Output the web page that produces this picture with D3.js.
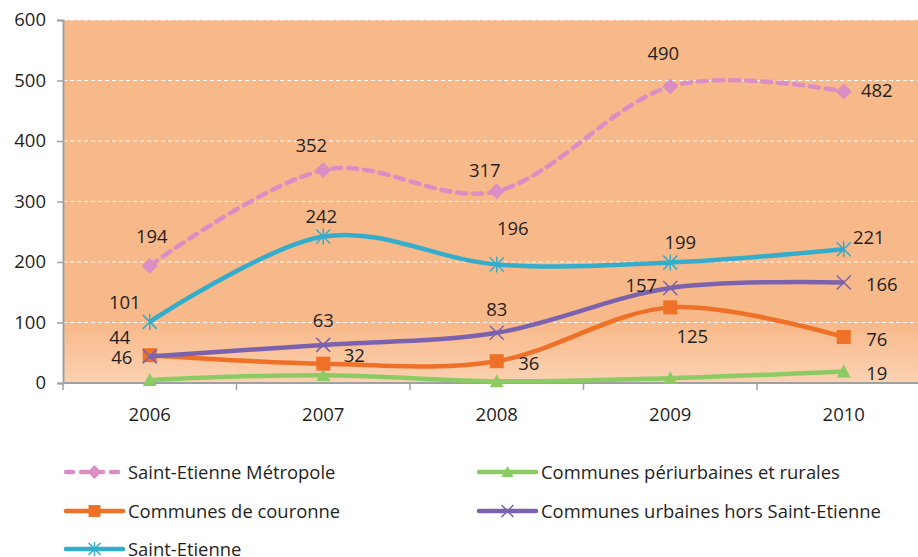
<!DOCTYPE html>
<html>
<head>
<meta charset="utf-8">
<script src="https://cdn.jsdelivr.net/npm/d3@7"></script>
<style>
  html, body { margin: 0; padding: 0; background: #fff; }
  svg { display: block; }
  text { font-family: "Open Sans", sans-serif; fill: #1f1f1f; }
</style>
</head>
<body>
<svg id="chart" width="918" height="557"></svg>
<script>
// Years on the horizontal axis
const years = ["2006", "2007", "2008", "2009", "2010"];
const yTicks = [0, 100, 200, 300, 400, 500, 600];

// Series values per year
const metropole   = [194, 352, 317, 490, 482];
const periurbain  = [5, 13, 3, 8, 19];
const couronne    = [46, 32, 36, 125, 76];
const urbaines    = [44, 63, 83, 157, 166];
const saintEtienne = [101, 242, 196, 199, 221];

// Series names (legend order: row by row, two columns)
const names = [
  "Saint-Etienne Métropole",
  "Communes périurbaines et rurales",
  "Communes de couronne",
  "Communes urbaines hors Saint-Etienne",
  "Saint-Etienne"
];

// Which points carry a value label, and where it sits relative to its point
const labelOffsets = [
  [[2, -29], [-12, -25], [-12, -21], [-7, -33], [33, -1]],
  [null, null, null, null, [33, 2]],
  [[-28, 2], [31, -8], [32, 2], [22, 29], [33, 2]],
  [[-30, -19], [0, -25], [0, -23], [-29, -3], [38, 2]],
  [[-25, -20], [-2, -20], [16, -36], [10, -20], [25, -12]]
];

const series = [
  { name: names[0], values: metropole,    color: "#DA8EC3", marker: "diamond", dash: "9,7" },
  { name: names[1], values: periurbain,   color: "#8CCB63", marker: "triangle" },
  { name: names[2], values: couronne,     color: "#EE7127", marker: "square" },
  { name: names[3], values: urbaines,     color: "#7B62AE", marker: "x" },
  { name: names[4], values: saintEtienne, color: "#33ADCB", marker: "star" }
];

const svg = d3.select("#chart");
const plot = { left: 63, top: 20, right: 930.5, bottom: 383 };

const x = d3.scaleBand().domain(years).range([plot.left, plot.right]);
const y = d3.scaleLinear().domain([0, 600]).range([plot.bottom, plot.top]);
const cx = d => x(d) + x.bandwidth() / 2;

// Plot area fill, lightening toward the baseline
const defs = svg.append("defs");
const grad = defs.append("linearGradient").attr("id", "bg")
  .attr("x1", 0).attr("y1", 0).attr("x2", 0).attr("y2", 1);
grad.append("stop").attr("offset", "0%").attr("stop-color", "#F8B98A");
grad.append("stop").attr("offset", "84%").attr("stop-color", "#F8B98A");
grad.append("stop").attr("offset", "100%").attr("stop-color", "#FBD2B3");

svg.append("rect")
  .attr("x", plot.left).attr("y", plot.top)
  .attr("width", plot.right - plot.left).attr("height", plot.bottom - plot.top)
  .attr("fill", "url(#bg)");

// Dashed white gridlines
svg.append("g").selectAll("line").data(yTicks.filter(v => v > 0)).join("line")
  .attr("x1", plot.left).attr("x2", plot.right)
  .attr("y1", d => y(d)).attr("y2", d => y(d))
  .attr("stroke", "#fff").attr("stroke-width", 1.2)
  .attr("stroke-dasharray", "4,3");

// Y axis
const yAxis = svg.append("g").attr("transform", `translate(${plot.left},0)`)
  .call(d3.axisLeft(y).tickValues(yTicks).tickSize(6).tickPadding(11));
yAxis.select(".domain").attr("stroke", "#A0A0A0").attr("stroke-width", 2);
yAxis.selectAll(".tick line").attr("stroke", "#A0A0A0").attr("stroke-width", 1.5);
yAxis.selectAll("text").style("font-size", "18.5px").style("font-family", "Open Sans").attr("fill", "#1f1f1f");

// X axis with tick marks between the categories
const xAxisG = svg.append("g").attr("transform", `translate(0,${plot.bottom})`);
xAxisG.append("line").attr("x1", plot.left).attr("x2", plot.right)
  .attr("stroke", "#A0A0A0").attr("stroke-width", 2);
const bounds = years.map(d => x(d)).concat([x(years[years.length - 1]) + x.bandwidth()]);
xAxisG.selectAll("line.tk").data(bounds).join("line").attr("class", "tk")
  .attr("x1", d => d).attr("x2", d => d).attr("y1", 0).attr("y2", 7)
  .attr("stroke", "#A0A0A0").attr("stroke-width", 1.5);
xAxisG.selectAll("text").data(years).join("text")
  .attr("x", d => cx(d)).attr("y", 38)
  .attr("text-anchor", "middle").style("font-size", "18.5px")
  .text(d => d);

// Marker shapes
function drawMarker(g, type, color, px, py, scale = 1) {
  const s = 7 * scale;
  if (type === "diamond") {
    g.append("path").attr("d", `M${px},${py - s - 1}L${px + s + 1},${py}L${px},${py + s + 1}L${px - s - 1},${py}Z`).attr("fill", color);
  } else if (type === "square") {
    g.append("rect").attr("x", px - s).attr("y", py - s).attr("width", 2 * s).attr("height", 2 * s).attr("fill", color);
  } else if (type === "triangle") {
    g.append("path").attr("d", `M${px},${py - s}L${px + s},${py + s * 0.85}L${px - s},${py + s * 0.85}Z`).attr("fill", color);
  } else if (type === "x") {
    g.append("path").attr("d", `M${px - s},${py - s}L${px + s},${py + s}M${px - s},${py + s}L${px + s},${py - s}`)
      .attr("stroke", color).attr("stroke-width", 1.5).attr("fill", "none");
  } else if (type === "star") {
    g.append("path").attr("d", `M${px - s},${py - s}L${px + s},${py + s}M${px - s},${py + s}L${px + s},${py - s}M${px},${py - s - 1}L${px},${py + s + 1}`)
      .attr("stroke", color).attr("stroke-width", 1.5).attr("fill", "none");
  }
}

// Smoothed lines
const line = d3.line()
  .x((d, i) => cx(years[i]))
  .y(d => y(d))
  .curve(d3.curveCardinal.tension(0));

series.forEach((s, si) => {
  const g = svg.append("g");
  g.append("path").datum(s.values)
    .attr("d", line)
    .attr("fill", "none")
    .attr("stroke", s.color)
    .attr("stroke-width", 4.5)
    .attr("stroke-linecap", s.dash ? "round" : "butt")
    .attr("stroke-dasharray", s.dash || null);
  s.values.forEach((v, i) => drawMarker(g, s.marker, s.color, cx(years[i]), y(v)));
});

// Value labels
const labels = svg.append("g");
series.forEach((s, si) => {
  s.values.forEach((v, i) => {
    const off = labelOffsets[si][i];
    if (!off) return;
    labels.append("text")
      .attr("x", cx(years[i]) + off[0])
      .attr("y", y(v) + off[1])
      .attr("dy", "0.36em")
      .attr("text-anchor", "middle")
      .style("font-size", "18.5px")
      .text(v);
  });
});

// Legend: two columns, filled row by row
const legend = svg.append("g");
const colX = [66, 479];
const rowY = [472, 511, 549];
series.forEach((s, i) => {
  const lx = colX[i % 2], ly = rowY[Math.floor(i / 2)];
  const g = legend.append("g");
  g.append("line").attr("x1", lx).attr("x2", lx + 57).attr("y1", ly).attr("y2", ly)
    .attr("stroke", s.color).attr("stroke-width", 4.5)
    .attr("stroke-linecap", "round")
    .attr("stroke-dasharray", s.dash ? "7,8" : null);
  drawMarker(g, s.marker, s.color, lx + 28.5, ly, 0.85);
  g.append("text").attr("x", lx + 62).attr("y", ly).attr("dy", "0.36em")
    .style("font-size", "18.4px").text(s.name);
});
</script>
</body>
</html>
